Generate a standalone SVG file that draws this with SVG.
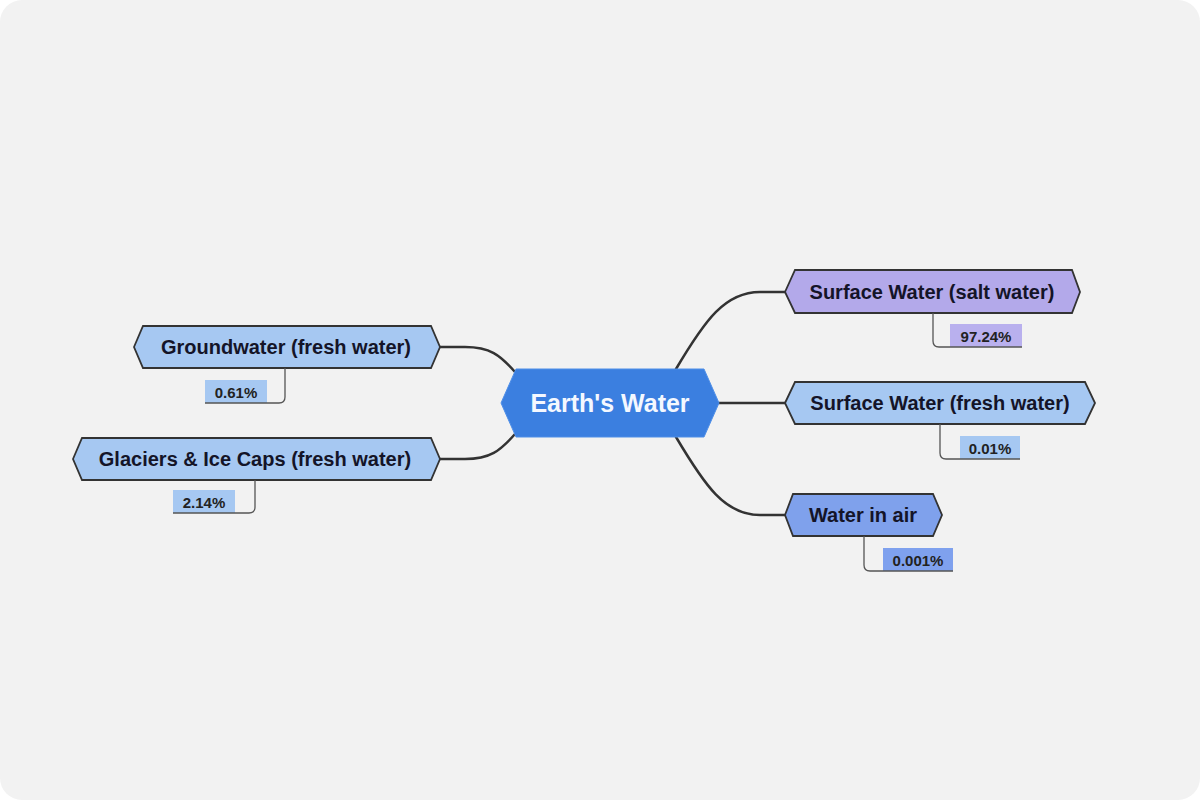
<svg xmlns="http://www.w3.org/2000/svg" width="1200" height="800" viewBox="0 0 1200 800">
<style>
.node{stroke:#333;stroke-width:1.8;stroke-linejoin:miter}
.t{font-family:"Liberation Sans",Arial,sans-serif;font-weight:bold;font-size:20px;fill:#141428;text-anchor:middle;dominant-baseline:central}
.lt{font-family:"Liberation Sans",Arial,sans-serif;font-weight:bold;font-size:15px;fill:#222;text-anchor:middle;dominant-baseline:central}
.c{fill:none;stroke:#333;stroke-width:2.5;stroke-linecap:round}
.b{fill:none;stroke:#555;stroke-width:1.3}
</style>
<rect x="0" y="0" width="1200" height="800" fill="#ffffff"/>
<rect x="0" y="0" width="1200" height="800" rx="22" fill="#f2f2f2"/>
<g id="connectors">
<path class="c" d="M676,369 C705,320 725,292 760,292 H785"/>
<path class="c" d="M719,403 H785"/>
<path class="c" d="M676,437 C705,486 725,515 760,515 H785"/>
<path class="c" d="M515,372 C500,355 490,347 465,347 H440"/>
<path class="c" d="M515,434 C500,451 490,459 465,459 H440"/>
</g>
<g id="center">
<polygon points="501,403 516,369 704,369 719,403 704,437 516,437" fill="#3b7fe0" stroke="#4f8fe8" stroke-width="1"/>
<text x="610" y="403" class="t" style="font-size:25px;fill:#f4f8ff">Earth's Water</text>
</g>
<g id="salt">
<polygon class="node" points="785,292 795,270 1072,270 1080,292 1072,313 795,313" fill="#b3a9ea"/>
<text x="932" y="292" class="t">Surface Water (salt water)</text>
<rect x="950" y="324" width="72" height="23" fill="#b9b0ee"/>
<path class="b" d="M933,313 V341 Q933,347 939,347 H1022"/>
<text x="986" y="336" class="lt">97.24%</text>
</g>
<g id="fresh">
<polygon class="node" points="785,403 795,382 1085,382 1095,403 1085,424 795,424" fill="#a6c8f2"/>
<text x="940" y="403" class="t">Surface Water (fresh water)</text>
<rect x="960" y="436" width="60" height="23" fill="#a6c8f2"/>
<path class="b" d="M940,424 V453 Q940,459 946,459 H1020"/>
<text x="990" y="448" class="lt">0.01%</text>
</g>
<g id="air">
<polygon class="node" points="785,515 793,494 933,494 942,515 933,536 793,536" fill="#7fa1ec"/>
<text x="863" y="515" class="t">Water in air</text>
<rect x="883" y="548" width="70" height="23" fill="#7fa1ee"/>
<path class="b" d="M864,536 V565 Q864,571 870,571 H953"/>
<text x="918" y="560" class="lt">0.001%</text>
</g>
<g id="groundwater">
<polygon class="node" points="134,347 143,326 431,326 440,347 431,368 143,368" fill="#a6c8f2"/>
<text x="286" y="347" class="t">Groundwater (fresh water)</text>
<rect x="205" y="380" width="62" height="23" fill="#a6c8f2"/>
<path class="b" d="M285,368 V397 Q285,403 279,403 H205"/>
<text x="236" y="392" class="lt">0.61%</text>
</g>
<g id="glaciers">
<polygon class="node" points="73,459 82,438 431,438 440,459 431,480 82,480" fill="#a6c8f2"/>
<text x="255" y="459" class="t">Glaciers &amp; Ice Caps (fresh water)</text>
<rect x="173" y="490" width="62" height="23" fill="#a6c8f2"/>
<path class="b" d="M255,480 V507 Q255,513 249,513 H173"/>
<text x="204" y="502" class="lt">2.14%</text>
</g>
</svg>
